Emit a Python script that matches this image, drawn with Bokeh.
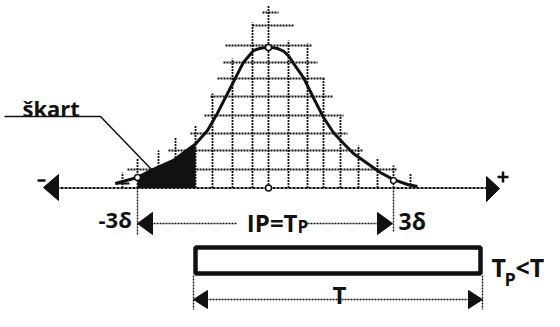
from bokeh.plotting import figure
from bokeh.models import Range1d
from bokeh.embed import file_html
from bokeh.resources import INLINE
from bokeh.core.properties import value

# ---- data (x in sigma units, y as share of the peak) ----
curve_sigma = [-3.59, -3.07, -2.70, -2.23, -1.71, -1.43, -1.20, -0.96, -0.77, -0.59,
               -0.47, -0.35, -0.23, -0.12, 0.0, 0.12, 0.23, 0.35, 0.47, 0.59,
               0.82, 1.05, 1.29, 1.52, 1.76, 1.99, 2.32, 2.62, 2.93, 3.26, 3.49]
curve_height = [0.032, 0.075, 0.132, 0.196, 0.313, 0.409, 0.530, 0.673, 0.786, 0.893,
                0.936, 0.979, 0.991, 0.998, 1.0, 0.998, 0.991, 0.975, 0.940, 0.886,
                0.786, 0.644, 0.502, 0.395, 0.317, 0.246, 0.174, 0.110, 0.060, 0.025, 0.011]
reject_sigma = [-3.07, -2.70, -2.23, -1.71]          # "škart" (reject) area
reject_height = [0.075, 0.132, 0.196, 0.313]
mark_sigma = [-3.07, 0.0, 2.93, 0.0]
mark_height = [0.075, 0.0, 0.054, 1.0]

labels = ["škart", "-3δ", "3δ", "IP=T", "P", "T", "T", "P", "<T"]

# ---- layout helpers (reference pixel frame -> data units) ----
XC, S, Y0, H = 268.0, 42.67, 187.5, 140.5
def X(px): return (px - XC) / S
def Y(py): return (Y0 - py) / H

p = figure(width=544, height=311, output_backend="svg", toolbar_location=None,
           x_range=Range1d(X(0), X(544)), y_range=Range1d(Y(311), Y(0)),
           x_axis_type=None, y_axis_type=None, min_border=0,
           outline_line_color=None, background_fill_color="white",
           border_fill_color="white")
p.grid.visible = False

INK = "#111111"
DOT = "2 1"

# construction grid under the curve
hgrid_y = [169, 150, 133, 115, 96, 78, 62, 45, 25, 12]
hgrid_x0 = [127, 168, 190, 204, 210, 217, 223, 225, 252, 262]
hgrid_x1 = [397, 362, 347, 343, 333, 325, 317, 312, 293, 278]
vgrid_x = [122, 137, 158, 175, 195, 212, 232, 252, 268, 288, 307, 323, 340, 358, 377, 393, 410]
vgrid_top = [172, 158, 150, 137, 125, 93, 58, 22, 5, 40, 43, 78, 115, 145, 158, 165, 173]

p.multi_line([[X(a), X(b)] for a, b in zip(hgrid_x0, hgrid_x1)],
             [[Y(y), Y(y)] for y in hgrid_y],
             line_color=INK, line_width=1.8, line_dash=DOT)
p.multi_line([[X(x), X(x)] for x in vgrid_x],
             [[Y(Y0), Y(t)] for t in vgrid_top],
             line_color=INK, line_width=1.8, line_dash=DOT)
# small cross at the far left tail
p.line([X(115), X(129)], [Y(183), Y(183)], line_color=INK, line_width=1.8)

# extension lines below the axis
p.multi_line([[X(137), X(137)], [X(393), X(393)], [X(193), X(193)], [X(482), X(482)]],
             [[Y(187), Y(234)], [Y(187), Y(231)], [Y(275), Y(309)], [Y(275), Y(309)]],
             line_color=INK, line_width=1.4, line_dash=DOT)

# horizontal axis with arrows
p.line([X(56), X(488)], [0, 0], line_color=INK, line_width=2.2, line_dash="3 1")
p.patches([[X(43), X(58), X(58)], [X(499), X(486), X(486)]],
          [[Y(187), Y(174), Y(200)], [Y(188), Y(176), Y(201)]],
          fill_color=INK, line_color=INK)
p.line([X(37), X(45)], [Y(180), Y(180)], line_color=INK, line_width=2.5)
p.line([X(497), X(508)], [Y(176.5), Y(176.5)], line_color=INK, line_width=2.5)
p.line([X(502.5), X(502.5)], [Y(171), Y(182)], line_color=INK, line_width=2.5)

# reject area and curve
p.varea(x=reject_sigma, y1=[0] * len(reject_sigma), y2=reject_height, fill_color=INK)
p.line(curve_sigma, curve_height, line_color=INK, line_width=3)
p.scatter(mark_sigma, mark_height, size=6, fill_color="white", line_color=INK, line_width=1.5)

# leader line for "škart"
p.line([X(4), X(100), X(152)], [Y(116), Y(116), Y(170)], line_color=INK, line_width=1.5)

# IP = Tp dimension
p.multi_line([[X(150), X(236)], [X(307), X(379)]], [[Y(223), Y(223)], [Y(223), Y(223)]],
             line_color=INK, line_width=1.5, line_dash=DOT)
p.patches([[X(137), X(152), X(152)], [X(392), X(377), X(377)]],
          [[Y(223), Y(212), Y(234)], [Y(223), Y(212), Y(234)]],
          fill_color=INK, line_color=INK)

# tolerance bar
p.quad(left=[X(195)], right=[X(480)], top=[Y(247)], bottom=[Y(273)],
       fill_color="white", line_color=INK, line_width=4.5)

# T dimension (kept inside the frame)
TY = 299
p.line([X(206), X(469)], [Y(TY), Y(TY)], line_color=INK, line_width=1.5, line_dash=DOT)
p.patches([[X(193), X(207), X(207)], [X(482), X(468), X(468)]],
          [[Y(TY), Y(TY - 9), Y(TY + 9)], [Y(TY), Y(TY - 9), Y(TY + 9)]],
          fill_color=INK, line_color=INK)

# texts
F = value("Open Sans")
def txt(s, x, y, size, align="left"):
    p.text([X(x)], [Y(y)], text=[s], text_font=F, text_font_size=f"{size}px",
           text_font_style="bold", text_color=INK, text_align=align,
           text_baseline="alphabetic")

txt(labels[0], 22, 107, 22)
txt(labels[1], 98, 218, 22)
txt(labels[2], 398, 220, 23)
txt(labels[3], 297, 222, 24, "right")
txt(labels[4], 297, 226, 17)
txt(labels[5], 339, 294, 24, "center")
txt(labels[6], 491, 266, 25)
txt(labels[7], 504, 278, 18)
txt(labels[8], 515, 266, 25)

open("out.html", "w").write(file_html(p, INLINE))
